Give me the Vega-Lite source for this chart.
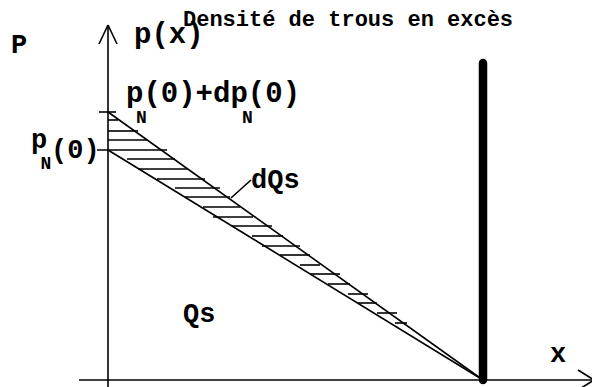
{
  "$schema": "https://vega.github.io/schema/vega-lite/v6.json",
  "width": 592,
  "height": 387,
  "autosize": {"type": "fit", "contains": "padding"},
  "padding": 0,
  "background": "white",
  "config": {"view": {"stroke": null}},
  "datasets": {
    "segments": [
      {"role": "axis", "x": 0, "y": -7, "x2": 0, "y2": 355},
      {"role": "axis", "x": -9, "y": 336, "x2": 0, "y2": 355},
      {"role": "axis", "x": 0, "y": 355, "x2": 9, "y2": 336},
      {"role": "axis", "x": -29, "y": 0, "x2": 484, "y2": 0},
      {"role": "axis", "x": 470, "y": 10, "x2": 486, "y2": 0},
      {"role": "axis", "x": 486, "y": 0, "x2": 470, "y2": -10},
      {"role": "curve", "x": 0, "y": 268, "x2": 375, "y2": 0},
      {"role": "curve", "x": 0, "y": 230, "x2": 375, "y2": 0},
      {"role": "tick", "x": -9, "y": 268, "x2": 8, "y2": 268},
      {"role": "tick", "x": -11, "y": 230, "x2": 59, "y2": 230},
      {"role": "hatch", "x": 0, "y": 260, "x2": 10, "y2": 260},
      {"role": "hatch", "x": 0, "y": 249, "x2": 30, "y2": 249},
      {"role": "hatch", "x": 0, "y": 240, "x2": 39, "y2": 240},
      {"role": "hatch", "x": 19, "y": 221, "x2": 67, "y2": 221},
      {"role": "hatch", "x": 30, "y": 211, "x2": 79, "y2": 211},
      {"role": "hatch", "x": 49, "y": 201, "x2": 97, "y2": 201},
      {"role": "hatch", "x": 67, "y": 192, "x2": 112, "y2": 192},
      {"role": "hatch", "x": 77, "y": 183, "x2": 122, "y2": 183},
      {"role": "hatch", "x": 95, "y": 173, "x2": 132, "y2": 173},
      {"role": "hatch", "x": 105, "y": 163, "x2": 145, "y2": 163},
      {"role": "hatch", "x": 124, "y": 154, "x2": 164, "y2": 154},
      {"role": "hatch", "x": 144, "y": 144, "x2": 175, "y2": 144},
      {"role": "hatch", "x": 154, "y": 134, "x2": 192, "y2": 134},
      {"role": "hatch", "x": 172, "y": 125, "x2": 202, "y2": 125},
      {"role": "hatch", "x": 192, "y": 115, "x2": 212, "y2": 115},
      {"role": "hatch", "x": 202, "y": 106, "x2": 232, "y2": 106},
      {"role": "hatch", "x": 220, "y": 96, "x2": 242, "y2": 96},
      {"role": "hatch", "x": 240, "y": 86, "x2": 260, "y2": 86},
      {"role": "hatch", "x": 250, "y": 77, "x2": 269, "y2": 77},
      {"role": "hatch", "x": 269, "y": 67, "x2": 289, "y2": 67},
      {"role": "hatch", "x": 287, "y": 57, "x2": 299, "y2": 57},
      {"role": "pointer", "x": 123, "y": 182, "x2": 143, "y2": 200},
      {"role": "wall", "x": 375, "y": 0, "x2": 375, "y2": 317}
    ],
    "texts": [
      {"role": "title", "x": 75, "y": 354, "label": "Densité de trous en excès"},
      {"role": "axisname", "x": -97, "y": 327, "label": "P"},
      {"role": "big", "x": 26, "y": 337, "label": "p(x)"},
      {"role": "big", "x": 18, "y": 278, "label": "p(0)+dp(0)"},
      {"role": "sub", "x": 33.5, "y": 257, "label": "N"},
      {"role": "sub", "x": 139.5, "y": 257, "label": "N"},
      {"role": "sub", "x": -62, "y": 211, "label": "N"},
      {"role": "mid", "x": -77, "y": 232, "label": "p"},
      {"role": "mid", "x": -57, "y": 222, "label": "(0)"},
      {"role": "mid", "x": 143, "y": 192, "label": "dQs"},
      {"role": "mid", "x": 75, "y": 58, "label": "Qs"},
      {"role": "mid", "x": 442, "y": 18, "label": "x"}
    ]
  },
  "encoding": {
    "x": {"field": "x", "type": "quantitative", "scale": {"domain": [-108, 484], "nice": false, "zero": false}, "axis": null},
    "y": {"field": "y", "type": "quantitative", "scale": {"domain": [-7, 380], "nice": false, "zero": false}, "axis": null}
  },
  "layer": [
    {
      "data": {"name": "segments"},
      "transform": [{"filter": "datum.role !== 'wall'"}],
      "mark": {"type": "rule", "color": "black", "strokeWidth": 1.6, "clip": true},
      "encoding": {
        "x2": {"field": "x2"},
        "y2": {"field": "y2"}
      }
    },
    {
      "data": {"name": "segments"},
      "transform": [{"filter": "datum.role === 'wall'"}],
      "mark": {"type": "rule", "color": "black", "strokeWidth": 8.5, "strokeCap": "round"},
      "encoding": {
        "x2": {"field": "x2"},
        "y2": {"field": "y2"}
      }
    },
    {
      "data": {"name": "texts"},
      "transform": [{"filter": "datum.role === 'title'"}],
      "mark": {"type": "text", "font": "Liberation Mono", "fontWeight": "bold", "fontSize": 22, "align": "left", "baseline": "alphabetic", "color": "black"},
      "encoding": {"text": {"field": "label"}}
    },
    {
      "data": {"name": "texts"},
      "transform": [{"filter": "datum.role === 'axisname'"}],
      "mark": {"type": "text", "font": "Liberation Mono", "fontWeight": "bold", "fontSize": 27, "align": "left", "baseline": "alphabetic", "color": "black"},
      "encoding": {"text": {"field": "label"}}
    },
    {
      "data": {"name": "texts"},
      "transform": [{"filter": "datum.role === 'big'"}],
      "mark": {"type": "text", "font": "Liberation Mono", "fontWeight": "bold", "fontSize": 29, "align": "left", "baseline": "alphabetic", "color": "black"},
      "encoding": {"text": {"field": "label"}}
    },
    {
      "data": {"name": "texts"},
      "transform": [{"filter": "datum.role === 'mid'"}],
      "mark": {"type": "text", "font": "Liberation Mono", "fontWeight": "bold", "fontSize": 27, "align": "left", "baseline": "alphabetic", "color": "black"},
      "encoding": {"text": {"field": "label"}}
    },
    {
      "data": {"name": "texts"},
      "transform": [{"filter": "datum.role === 'sub'"}],
      "mark": {"type": "text", "font": "Liberation Mono", "fontWeight": "bold", "fontSize": 18, "align": "center", "baseline": "alphabetic", "color": "black"},
      "encoding": {"text": {"field": "label"}}
    }
  ]
}
